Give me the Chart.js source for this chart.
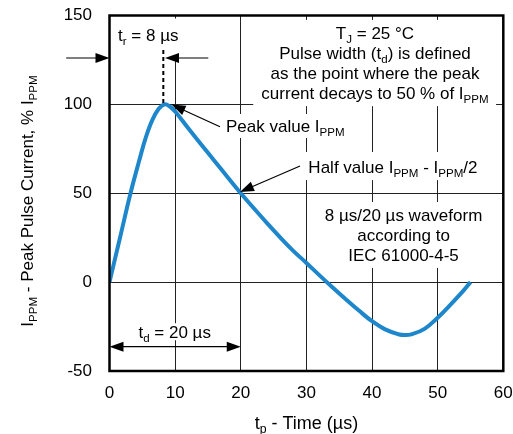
<!DOCTYPE html>
<html>
<head>
<meta charset="utf-8">
<script src="https://cdn.jsdelivr.net/npm/chart.js@4.4.1/dist/chart.umd.min.js"></script>
<style>
  html, body { margin: 0; padding: 0; background: #fff; }
  #wrap { width: 513px; height: 434px; }
</style>
</head>
<body>
<div id="wrap"><canvas id="pulse"></canvas></div>
<script>
// values
const timeUs = [0, 1.6, 3.2, 4.5, 5.5, 6.5, 7.5, 8.4, 9.2, 10, 12, 14, 16, 18, 20, 22, 24, 26, 28, 30, 32, 34, 36, 38, 40, 42, 44, 45, 46, 48, 50, 52, 54, 55];
const currentPct = [0, 25, 50, 68, 81, 91, 97.5, 100, 98.8, 96, 86.6, 77.3, 68.2, 59, 50, 41.5, 33.2, 25.2, 17.6, 10.8, 3.8, -3, -9.6, -16, -22, -26.6, -29.3, -29.8, -29.4, -26.3, -20, -12.5, -4.5, 0];
const xTicks = [0, 10, 20, 30, 40, 50, 60];
const yTicks = [-50, 0, 50, 100, 150];

const FONT = '"Liberation Sans", Arial, Helvetica, sans-serif';
const BLUE = '#1e86cb';

// text blocks; a part starting with '_' is drawn as subscript
const notes = [
  { lines: [['t', '_r', ' = 8 µs']], x: 5.9, y: 139, align: 'center', box: [0.85, 148.3, 11.5, 126.2] },
  { lines: [['T', '_J', ' = 25 °C'], ['Pulse width (t', '_d', ') is defined'], ['as the point where the peak'], ['current decays to 50 % of I', '_PPM']],
    x: 40.45, y: 140, align: 'center', box: [21.9, 147.5, 58.9, 99] },
  { lines: [['Peak value I', '_PPM']], x: 17.75, y: 87.8, align: 'left', box: [17.1, 94.6, 36.6, 81.1] },
  { lines: [['Half value I', '_PPM', ' - I', '_PPM', '/2']], x: 30.3, y: 65, align: 'left', box: [29.0, 73.2, 57.2, 57.4] },
  { lines: [['8 µs/20 µs waveform'], ['according to'], ['IEC 61000-4-5']], x: 44.8, y: 37.7, align: 'center', box: [31.8, 45.1, 58.0, 8.0] },
  { lines: [['t', '_d', ' = 20 µs']], x: 9.93, y: -28.1, align: 'center', box: [3.9, -23.1, 16.1, -32.7] }
];

const arrows = [
  { from: [-6.6, 126.1], to: [0, 126.1] },
  { from: [15.05, 126.1], to: [8.46, 126.1] },
  { from: [16.84, 87.4], to: [9.45, 99.9] },
  { from: [29.03, 65.3], to: [19.88, 50.7] },
  { from: [10, -36.3], to: [0, -36.3] },
  { from: [10, -36.3], to: [20, -36.3] }
];

function richWidth(ctx, parts, size) {
  let w = 0;
  parts.forEach(p => {
    const sub = p[0] === '_';
    ctx.font = (sub ? size * 0.68 : size) + 'px ' + FONT;
    w += ctx.measureText(sub ? p.slice(1) : p).width;
  });
  return w;
}

function drawRich(ctx, parts, x, y, size, align) {
  const w = richWidth(ctx, parts, size);
  let cx = align === 'center' ? x - w / 2 : x;
  const base = y + size * 0.36;
  ctx.textAlign = 'left';
  ctx.textBaseline = 'alphabetic';
  parts.forEach(p => {
    const sub = p[0] === '_';
    const t = sub ? p.slice(1) : p;
    ctx.font = (sub ? size * 0.68 : size) + 'px ' + FONT;
    ctx.fillText(t, cx, sub ? base + size * 0.24 : base);
    cx += ctx.measureText(t).width;
  });
}

function arrowLine(ctx, x1, y1, x2, y2) {
  const a = Math.atan2(y2 - y1, x2 - x1);
  const len = 14, half = 5;
  ctx.beginPath();
  ctx.moveTo(x1, y1);
  ctx.lineTo(x2 - Math.cos(a) * len * 0.8, y2 - Math.sin(a) * len * 0.8);
  ctx.stroke();
  ctx.beginPath();
  ctx.moveTo(x2, y2);
  ctx.lineTo(x2 - Math.cos(a) * len - Math.sin(a) * half, y2 - Math.sin(a) * len + Math.cos(a) * half);
  ctx.lineTo(x2 - Math.cos(a) * len + Math.sin(a) * half, y2 - Math.sin(a) * len - Math.cos(a) * half);
  ctx.closePath();
  ctx.fill();
}

const annotate = {
  id: 'annotate',
  beforeDatasetsDraw(chart) {
    const { ctx, scales: { x, y } } = chart;
    ctx.save();
    notes.forEach(n => {
      const bx1 = x.getPixelForValue(n.box[0]), by1 = y.getPixelForValue(n.box[1]);
      const bx2 = x.getPixelForValue(n.box[2]), by2 = y.getPixelForValue(n.box[3]);
      ctx.fillStyle = '#fff';
      ctx.fillRect(bx1, by1, bx2 - bx1, by2 - by1);
      ctx.fillStyle = '#000';
      const px = x.getPixelForValue(n.x), py = y.getPixelForValue(n.y);
      n.lines.forEach((l, i) => drawRich(ctx, l, px, py + i * 20, 17, n.align));
    });
    ctx.restore();
  },
  afterDraw(chart) {
    const { ctx, chartArea: a, scales: { x, y } } = chart;
    ctx.save();
    ctx.strokeStyle = '#000';
    ctx.fillStyle = '#000';
    ctx.lineWidth = 1.2;
    arrows.forEach(r => {
      arrowLine(ctx, x.getPixelForValue(r.from[0]), y.getPixelForValue(r.from[1]),
        x.getPixelForValue(r.to[0]), y.getPixelForValue(r.to[1]));
    });
    // dashed marker at the peak
    ctx.lineWidth = 2;
    ctx.setLineDash([4, 3]);
    ctx.beginPath();
    ctx.moveTo(x.getPixelForValue(8.2), y.getPixelForValue(130.6));
    ctx.lineTo(x.getPixelForValue(8.2), y.getPixelForValue(100));
    ctx.stroke();
    ctx.setLineDash([]);
    // plot frame
    ctx.lineWidth = 2.5;
    ctx.strokeRect(a.left, a.top, a.right - a.left, a.bottom - a.top);
    // axis titles
    drawRich(ctx, ['t', '_p', ' - Time (µs)'], (a.left + a.right) / 2, 422.5, 18, 'center');
    ctx.translate(27, 201);
    ctx.rotate(-Math.PI / 2);
    drawRich(ctx, ['I', '_PPM', ' - Peak Pulse Current, % I', '_PPM'], 0, 0, 17, 'center');
    ctx.restore();
  }
};

const tickFont = { family: FONT, size: 17 };
const gridStyle = { color: '#222', lineWidth: 1, drawTicks: false };

new Chart(document.getElementById('pulse').getContext('2d'), {
  type: 'line',
  data: {
    datasets: [{
      data: timeUs.map((t, i) => ({ x: t, y: currentPct[i] })),
      borderColor: BLUE,
      borderWidth: 4,
      pointRadius: 0,
      fill: false,
      tension: 0.4
    }]
  },
  options: {
    responsive: true,
    maintainAspectRatio: false,
    animation: false,
    layout: { padding: 0 },
    plugins: { legend: { display: false }, tooltip: { enabled: false } },
    scales: {
      x: {
        type: 'linear', min: 0, max: 60,
        afterBuildTicks: s => { s.ticks = xTicks.map(v => ({ value: v })); },
        afterFit: s => { s.height = 63; s.paddingLeft = 0; s.paddingRight = 9.7; },
        grid: gridStyle,
        border: { display: false },
        ticks: { font: tickFont, color: '#000', padding: 12, maxRotation: 0 }
      },
      y: {
        min: -50, max: 150,
        afterBuildTicks: s => { s.ticks = yTicks.map(v => ({ value: v })); },
        afterFit: s => { s.width = 109.5; s.paddingTop = 15.5; s.paddingBottom = 0; },
        grid: gridStyle,
        border: { display: false },
        ticks: { font: tickFont, color: '#000', padding: 17.5 }
      }
    }
  },
  plugins: [annotate]
});
</script>
</body>
</html>
